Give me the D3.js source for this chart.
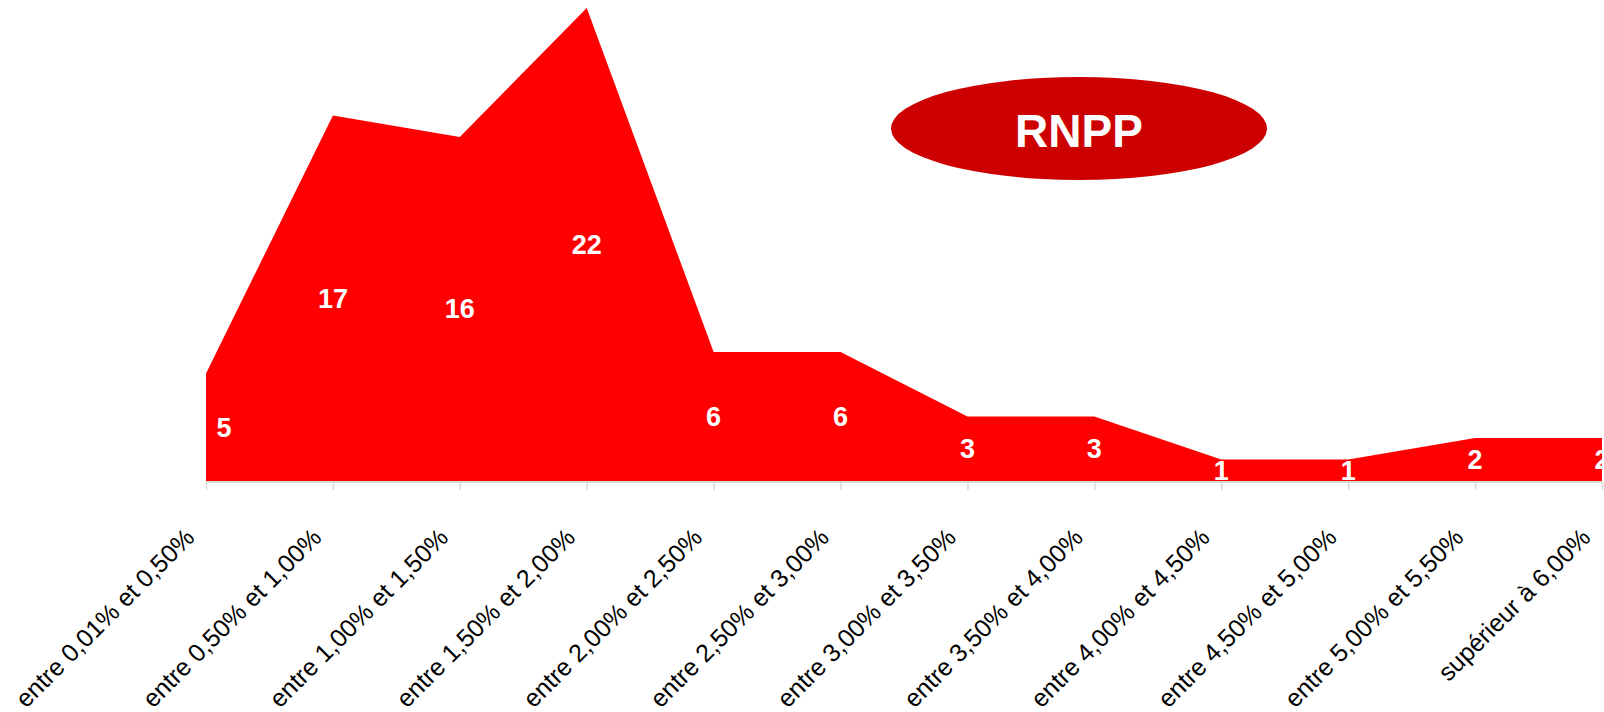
<!DOCTYPE html>
<html>
<head>
<meta charset="utf-8">
<script src="https://cdn.jsdelivr.net/npm/d3@7"></script>
<style>
  html, body { margin: 0; padding: 0; background: #fff; }
  svg { display: block; }
</style>
</head>
<body>
<script>
const categories = [
  "entre 0,01% et 0,50%", "entre 0,50% et 1,00%", "entre 1,00% et 1,50%",
  "entre 1,50% et 2,00%", "entre 2,00% et 2,50%", "entre 2,50% et 3,00%",
  "entre 3,00% et 3,50%", "entre 3,50% et 4,00%", "entre 4,00% et 4,50%",
  "entre 4,50% et 5,00%", "entre 5,00% et 5,50%", "supérieur à 6,00%"
];
const values = [5, 17, 16, 22, 6, 6, 3, 3, 1, 1, 2, 2];
const title = "RNPP";

const W = 1604, H = 712;
const svg = d3.select("body").append("svg").attr("width", W).attr("height", H);

const x = d3.scalePoint().domain(categories).range([206, 1602]);
const y = d3.scaleLinear().domain([0, 22]).range([481, 8]);

svg.append("defs").append("clipPath").attr("id", "plot")
  .append("rect").attr("x", 206).attr("y", 0).attr("width", 1602 - 206).attr("height", 482);

const data = categories.map((c, i) => ({ c, v: values[i], i }));

const area = d3.area()
  .x(d => x(d.c))
  .y0(y(0))
  .y1(d => y(d.v));

svg.append("path")
  .datum(data)
  .attr("d", area)
  .attr("fill", "#FF0000");

// axis
const axis = d3.axisBottom(x).tickSize(8).tickFormat("");
const gx = svg.append("g").attr("transform", `translate(0,${y(0) + 1})`).call(axis);
gx.select(".domain").attr("stroke", "#d9d9d9").attr("stroke-width", 2).attr("d", `M206,0H1602`);
gx.selectAll(".tick line").attr("stroke", "#d9d9d9").attr("stroke-width", 1.5);

// category labels
svg.append("g").selectAll("text")
  .data(categories)
  .join("text")
  .attr("transform", d => `translate(${x(d) - 10},539) rotate(-45)`)
  .attr("text-anchor", "end")
  .attr("font-family", "Liberation Sans, Arial, sans-serif")
  .attr("font-size", 25)
  .attr("fill", "#000")
  .text(d => d);

// value labels
svg.append("g").attr("clip-path", "url(#plot)").selectAll("text")
  .data(data)
  .join("text")
  .attr("x", d => x(d.c) + (d.i === 0 ? 18 : 0))
  .attr("y", d => y(d.v / 2))
  .attr("dy", "0.35em")
  .attr("text-anchor", "middle")
  .attr("font-family", "Liberation Sans, Arial, sans-serif")
  .attr("font-weight", "bold")
  .attr("font-size", 27)
  .attr("fill", "#fff")
  .text(d => d.v);

// title ellipse
svg.append("ellipse")
  .attr("cx", 1079).attr("cy", 128.5).attr("rx", 188).attr("ry", 51.5)
  .attr("fill", "#CC0000");
svg.append("text")
  .attr("x", 1079).attr("y", 147)
  .attr("text-anchor", "middle")
  .attr("font-family", "Liberation Sans, Arial, sans-serif")
  .attr("font-weight", "bold")
  .attr("font-size", 46)
  .attr("fill", "#fff")
  .text(title);
</script>
</body>
</html>
